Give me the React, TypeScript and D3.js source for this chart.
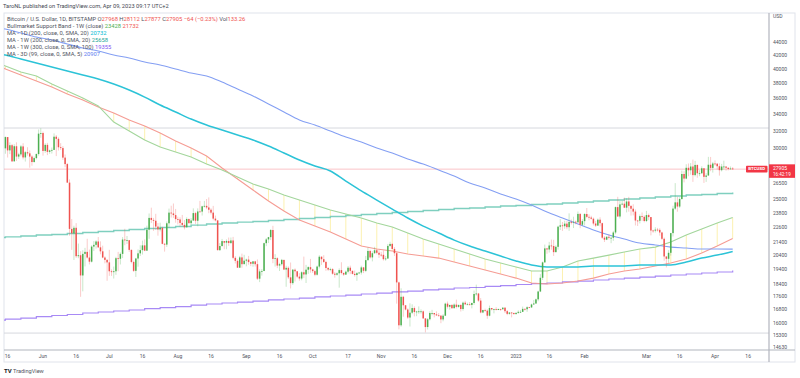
import React from "react";
import * as d3 from "d3";

type HLC = [number, number, number];

// Daily candles (high, low, close); open = previous close
const firstOpen = 30080;
const candleStart = Date.UTC(2022, 4, 15);
const may22: HLC[] = [[31400,29500,31330],[31300,29100,29860],[30740,29460,30420],[30560,28650,28700],[30520,28700,30310],[30740,28740,29200],[29600,28960,29430],[30450,29230,30290],[30640,28900,29110],[29800,28680,29660],[30200,29300,29540],[29850,28050,29200],[29350,28250,28630],[29200,28570,29040],[29530,28900,29470],[32200,29300,31720],[32350,31250,31790]];
const jun22: HLC[] = [[31960,29300,29800],[30640,29600,30460],[30680,29350,29700],[29940,29500,29860],[30170,29520,29910],[31750,29900,31370],[31560,29250,31130],[31300,29850,30200],[30650,29900,30110],[30330,28850,29090],[29420,28100,28420],[28540,26560,26580],[26890,21950,22490],[23300,20850,22130],[22750,20100,22580],[22960,20250,20380],[21330,20230,20450],[20750,17600,19010],[20820,17950,20550],[21000,19640,20700],[21700,20200,20280],[20870,19780,19980],[21200,19920,21100],[21520,20760,21230],[21580,20950,21490],[21840,21000,21040],[21500,20520,20740],[21170,20230,20280],[20370,19860,20110],[20170,18650,19930]];
const jul22: HLC[] = [[20850,18980,19300],[19430,18980,19240],[19630,18800,19300],[20330,19050,20230],[20700,19300,20190],[20660,19780,20550],[21830,20240,21640],[22500,21200,21590],[21920,21300,21590],[21600,20700,20850],[20870,19860,19960],[20050,19250,19330],[20260,18910,20210],[20880,19620,20590],[21200,20390,20830],[21560,20500,21190],[21650,20750,20790],[22750,20780,22430],[23780,21700,23400],[24280,22970,23230],[23400,22330,23160],[23750,22400,22680],[22970,21950,22450],[23000,22290,22580],[22660,21270,21310],[21380,20720,21250],[23100,21070,22950],[24200,22580,23850],[24450,23430,23780],[24650,23400,23640],[24170,23000,23300]];
const aug22: HLC[] = [[23500,22850,23270],[23450,22670,22980],[23650,22700,22820],[23220,22450,22620],[23450,22600,23310],[23340,22930,22960],[23380,22850,23180],[24220,23150,23810],[23920,22900,23160],[24220,22700,23950],[24880,23900,23940],[24450,23600,24400],[24880,24300,24440],[25050,24150,24300],[25200,23800,24100],[24230,23700,23850],[24440,23200,23340],[23600,23100,23190],[23200,20800,20830],[21370,20770,21140],[21690,21100,21520],[21480,20900,21400],[21650,20900,21530],[21800,21150,21370],[21800,21300,21570],[21850,20150,20260],[20380,19850,20040],[20150,19550,19550],[20400,19600,20290],[20570,19540,19800],[20480,19850,20050]];
const sep22: HLC[] = [[20200,19650,20130],[20400,19760,19950],[19980,19660,19830],[20030,19620,20000],[20040,19630,19800],[20140,18700,18790],[19440,18560,19290],[19450,19000,19320],[21400,19300,21360],[21760,21130,21650],[21850,21370,21830],[22480,21600,22400],[22740,19870,20180],[20530,19630,20230],[20300,19520,19700],[19900,19320,19800],[20180,19700,20110],[20100,19380,19420],[19690,18250,19540],[19640,18770,18880],[19920,18140,18490],[19460,18380,19410],[19500,18600,19300],[19300,18820,18930],[19170,18650,18800],[19300,18680,19230],[20350,18830,19080],[19750,18500,19410],[19650,19120,19590],[20180,19200,19430]];
const oct22: HLC[] = [[19480,19180,19310],[19400,18960,19060],[19700,19000,19630],[20450,19500,20340],[20370,19750,20160],[20450,19880,19960],[20050,19330,19530],[19600,19330,19420],[19550,19300,19450],[19520,19060,19130],[19250,18860,19060],[19220,18990,19160],[19500,18190,19380],[19940,19080,19180],[19220,18980,19070],[19350,19050,19270],[19670,19150,19550],[19700,19100,19330],[19350,19080,19120],[19350,18930,19040],[19250,18650,19170],[19260,19100,19210],[19690,19070,19570],[19600,19170,19330],[20400,19240,20090],[21020,20060,20770],[20860,20200,20290],[20750,20000,20600],[21080,20560,20820],[20930,20510,20630],[20840,20250,20490]];
const nov22: HLC[] = [[20700,20340,20480],[20800,20060,20160],[20390,20050,20210],[21300,20180,21150],[21470,21080,21300],[21360,20900,20920],[21060,20390,20600],[20680,17170,18540],[18590,15650,15880],[18150,15800,17600],[17660,16380,17070],[17080,16760,16810],[16880,16250,16330],[17190,15810,16620],[17130,16530,16900],[17000,16400,16660],[16730,16410,16690],[17000,16550,16700],[16820,16560,16700],[16750,16260,16280],[16290,15480,15780],[16300,15640,16230],[16700,16160,16600],[16790,16460,16600],[16600,16340,16520],[16700,16420,16460],[16600,16400,16440],[16480,16000,16220],[16530,16110,16440],[17230,16420,17170]];
const dec22: HLC[] = [[17300,16870,16980],[17100,16800,17090],[17140,16860,16890],[17190,16880,17110],[17420,16880,16970],[17110,16920,17090],[17130,16690,16840],[17300,16740,17230],[17350,17080,17130],[17230,17090,17130],[17270,17070,17090],[17240,16880,17210],[18000,17100,17780],[18390,17670,17810],[17850,17280,17360],[17520,16580,16630],[16800,16590,16780],[16860,16670,16740],[16820,16260,16440],[17050,16400,16900],[16900,16760,16820],[16860,16580,16830],[16950,16760,16780],[16870,16780,16840],[16860,16730,16830],[16960,16790,16920],[16960,16600,16710],[16780,16470,16550],[16650,16500,16630],[16640,16340,16600],[16630,16490,16540]];
const jan23: HLC[] = [[16630,16490,16610],[16760,16550,16670],[16780,16600,16670],[16990,16660,16850],[16880,16750,16830],[17010,16670,16950],[16970,16900,16940],[17170,16910,17120],[17400,17100,17180],[17490,17150,17440],[17990,17320,17940],[19100,17900,18850],[19990,18700,19930],[21250,19900,20960],[21000,20560,20880],[21460,20650,21180],[21640,20860,21140],[21620,20400,20680],[21190,20660,21080],[22750,20870,22670],[23300,22400,22780],[23060,22330,22710],[23160,22500,22920],[23140,22460,22630],[23790,22330,23060],[23270,22850,23010],[23500,22560,23080],[23170,22860,23030],[23950,23000,23740],[23800,22550,22830],[23300,22740,23130]];
const feb23: HLC[] = [[23800,22780,23730],[24250,23370,23490],[23700,23200,23430],[23580,23260,23330],[23430,22770,22930],[23150,22650,22760],[23350,22740,23250],[23450,22700,22960],[23000,21700,21790],[21910,21450,21630],[21900,21600,21860],[22060,21640,21780],[21880,21360,21780],[22330,21540,22200],[24380,22060,24330],[25250,23500,23520],[24870,23350,24570],[24880,24500,24630],[25180,24250,24280],[25120,23870,24830],[25250,23930,24440],[24470,23600,24190],[24580,23610,23940],[24130,22770,23180],[23230,22730,23160],[23690,22940,23550],[23860,23130,23490],[23610,23030,23140]];
const mar23: HLC[] = [[24000,23050,23640],[23770,23210,23470],[23480,21970,22360],[22420,22180,22350],[22620,22200,22430],[22570,22280,22410],[22540,21950,22200],[22260,21600,21700],[21800,20050,20360],[20330,19570,20190],[20830,19900,20630],[22170,20420,22150],[24450,21880,24200],[26530,24090,24750],[25250,23930,24380],[25200,24250,25050],[27760,25000,27420],[27700,26600,26970],[28400,26900,28040],[28480,27200,27790],[28520,27350,28170],[28880,26650,27310],[28750,27180,28330],[28380,27050,27490],[27800,27200,27490],[28190,27450,27990],[28000,26550,27140],[27500,26650,27270],[29170,27250,28350],[29160,27700,28030],[28640,27560,28480]];
const apr23: HLC[] = [[28800,28260,28460],[28500,27860,28200],[28500,27260,27800],[28440,27680,28170],[28770,27850,28170],[28190,27750,28040],[28100,27780,27920],[28170,27880,27970],[28112,27877,27905]];
const candleMonths: HLC[][] = [may22, jun22, jul22, aug22, sep22, oct22, nov22, dec22, jan23, feb23, mar23, apr23];

// Weekly indicator values (weeks ending Sunday, from 2022-05-08)
const weekStart = Date.UTC(2022, 4, 8);
const bandGreen = [41380,40490,39630,39060,37940,37000,36070,35050,33080,32020,31000,30220,29680,29150,28420,27820,27120,26440,25970,25410,24960,24510,24080,23730,23390,22970,22640,22160,21680,21290,20910,20540,20170,19880,19600,19320,19320,19600,20030,20240,20460,20690,20910,21060,21450,22000,22480,22970,23428];
const bandRed = [40940,40060,39200,38360,37540,36600,35815,34920,34170,33320,32610,31790,30890,30120,29260,28020,26930,25880,24870,23990,23220,22720,22240,21680,21140,20910,20760,20540,20390,20240,19950,19670,19385,19110,18830,18500,18430,18500,18630,18830,19110,19320,19460,19670,19880,20170,20610,21140,21732];
const ma200d = [42590,42130,41530,40940,40350,39770,39200,38640,37940,37130,36200,35170,34300,33440,32720,32140,31560,31000,30330,29580,28840,28220,27720,26730,25790,24960,24160,23390,22720,22160,21600,21140,20760,20390,20030,19740,19600,19600,19600,19670,19670,19670,19740,19740,19740,19950,20240,20460,20732];
const ma200w = [21800,21850,21920,22000,22040,22120,22200,22280,22360,22440,22520,22600,22680,22800,22890,22970,23050,23100,23180,23260,23350,23430,23520,23600,23690,23780,23860,23950,24030,24120,24210,24250,24340,24430,24470,24560,24600,24690,24780,24870,24960,25050,25140,25230,25320,25420,25460,25550,25658];
const ma300w = [16180,16240,16300,16390,16450,16510,16600,16660,16720,16780,16870,16930,16990,17080,17150,17210,17270,17330,17400,17460,17520,17590,17650,17710,17780,17840,17910,17970,18040,18100,18170,18200,18270,18330,18400,18460,18500,18570,18630,18700,18770,18830,18900,18970,19040,19110,19180,19250,19355];
const ma3d = [46790,46280,45620,44960,44480,43840,43210,42750,42130,41680,41080,40640,40060,39480,39060,38220,37270,36340,35300,34300,33320,32720,32020,31340,30770,30120,29580,28940,28420,27820,27220,26540,26070,25510,25050,24510,23900,23390,22890,22400,22000,21680,21370,21220,21060,20990,20910,20910,20907];

const priceTicks = [44000, 42000, 40000, 38000, 36000, 34000, 32000, 30000, 26500, 25000, 23800, 22600, 21400, 20400, 19400, 18400, 17600, 16800, 16000, 15300, 14630];
const timeTicks: [string, string][] = [["2022-05-16","16"],["2022-06-01","Jun"],["2022-06-16","16"],["2022-07-01","Jul"],["2022-07-16","16"],["2022-08-01","Aug"],["2022-08-16","16"],["2022-09-01","Sep"],["2022-09-16","16"],["2022-10-01","Oct"],["2022-10-17","17"],["2022-11-01","Nov"],["2022-11-16","16"],["2022-12-01","Dec"],["2022-12-16","16"],["2023-01-01","2023"],["2023-01-16","16"],["2023-02-01","Feb"],["2023-03-01","Mar"],["2023-03-16","16"],["2023-04-01","Apr"],["2023-04-16","16"]];
const hLevels = [32370, 15440];
const lastPrice = 27905;

const UP = "#4caf50";
const DOWN = "#ef5350";
const FONT = "Roboto, 'Liberation Sans', Arial, sans-serif";

export default function App() {
  const W = 800, H = 378;
  const L = 4, T = 13, R = 769, B = 350;
  const x = d3.scaleUtc()
    .domain([new Date(Date.UTC(2022, 5, 1)), new Date(Date.UTC(2023, 3, 1))])
    .range([43, 715]);
  const y = d3.scaleLog().domain([44000, 14630]).range([43, 348]);

  let prev = firstOpen;
  const candles = candleMonths.flat().map((d, i) => {
    const o = prev;
    const [h, l, c] = d;
    prev = c;
    return { date: d3.utcDay.offset(new Date(candleStart), i), o, c, h: Math.max(h, o, c), l: Math.min(l, o, c) };
  });
  candles[candles.length - 1].o = 27968;

  const weeks = ma3d.map((_, i) => d3.utcWeek.offset(new Date(weekStart), i));
  const mk = (vals: number[], curve: d3.CurveFactory) =>
    d3.line<number>().x((_, i) => x(weeks[i])).y((v) => y(v)).curve(curve)(vals) || "";

  const lines = [
    { d: mk(ma200w, d3.curveStepAfter), color: "#7fcfbf", w: 1.4 },
    { d: mk(ma300w, d3.curveStepAfter), color: "#a88af5", w: 1.2 },
    { d: mk(bandRed, d3.curveLinear), color: "#f59c94", w: 1.1 },
    { d: mk(bandGreen, d3.curveLinear), color: "#a3d69c", w: 1.1 },
    { d: mk(ma3d, d3.curveMonotoneX), color: "#849ff3", w: 1.1 },
    { d: mk(ma200d, d3.curveMonotoneX), color: "#2cc3d7", w: 1.5 },
  ];

  const legendY = [21, 28, 35, 42, 49, 56];
  const gray = "#50535e";
  const fs = 5.8;

  return (
    <svg width={W} height={H} style={{ position: "absolute", left: 0, top: 0, background: "#fff" }} fontFamily={FONT}>
      <defs>
        <clipPath id="plot"><rect x={L} y={T} width={R - L} height={B - T} /></clipPath>
      </defs>
      <rect x={0} y={0} width={W} height={H} fill="#fff" />
      <text x={3} y={8} fontSize={5.7} fill="#434651">TaroNL published on TradingView.com, Apr 09, 2023 09:17 UTC+2</text>

      {/* frame */}
      <rect x={L} y={T} width={795 - L} height={362 - T} fill="none" stroke="#e0e3eb" strokeWidth={1} />

      <g clipPath="url(#plot)">
        {hLevels.map((v) => (
          <line key={v} x1={L} x2={R} y1={y(v)} y2={y(v)} stroke="#d6d8de" strokeWidth={1} />
        ))}
        <line x1={L} x2={R} y1={y(lastPrice)} y2={y(lastPrice)} stroke="#f23645" strokeOpacity={0.3} strokeWidth={1} />
        {weeks.map((wd, i) => (
          <line key={"f" + i} x1={x(wd)} x2={x(wd)} y1={y(bandGreen[i])} y2={y(bandRed[i])} stroke="#fcf1b0" strokeWidth={1} />
        ))}
        {lines.map((ln, i) => (
          <path key={"l" + i} d={ln.d} fill="none" stroke={ln.color} strokeWidth={ln.w} />
        ))}
        {candles.map((k, i) => {
          const cx = x(k.date);
          const col = k.c >= k.o ? UP : DOWN;
          const top = y(Math.max(k.o, k.c));
          const bot = y(Math.min(k.o, k.c));
          return (
            <g key={"c" + i}>
              <line x1={cx} x2={cx} y1={y(k.h)} y2={y(k.l)} stroke={col} strokeOpacity={0.3} strokeWidth={1} />
              <rect x={cx - 0.75} y={top} width={1.5} height={Math.max(0.8, bot - top)} fill={col} />
            </g>
          );
        })}
      </g>

      {/* legend */}
      <text x={7} y={legendY[0]} fontSize={fs} fill={gray}>
        Bitcoin / U.S. Dollar, 1D, BITSTAMP <tspan>O</tspan><tspan fill={DOWN}>27968</tspan> <tspan>H</tspan><tspan fill={DOWN}>28112</tspan> <tspan>L</tspan><tspan fill={DOWN}>27877</tspan> <tspan>C</tspan><tspan fill={DOWN}>27905</tspan> <tspan fill={DOWN}>−64 (−0.23%)</tspan> <tspan>Vol</tspan><tspan fill={DOWN}>133.26</tspan>
      </text>
      <text x={7} y={legendY[1]} fontSize={fs} fill={gray}>
        Bullmarket Support Band - 1W (close) <tspan fill={UP}>23428</tspan> <tspan fill={DOWN}>21732</tspan>
      </text>
      <text x={7} y={legendY[2]} fontSize={fs} fill={gray}>
        MA - 1D (200, close, 0, SMA, 20) <tspan fill="#00bcd4">20732</tspan>
      </text>
      <text x={7} y={legendY[3]} fontSize={fs} fill={gray}>
        MA - 1W (200, close, 0, SMA, 20) <tspan fill="#26a69a">25658</tspan>
      </text>
      <text x={7} y={legendY[4]} fontSize={fs} fill={gray}>
        MA - 1W (300, close, 0, SMA, 100) <tspan fill="#7e57f2">19355</tspan>
      </text>
      <text x={7} y={legendY[5]} fontSize={fs} fill={gray}>
        MA - 3D (99, close, 0, SMA, 5) <tspan fill="#5c7cf0">20907</tspan>
      </text>

      {/* price axis */}
      <line x1={R} x2={R} y1={T} y2={362} stroke="#b2b5be" strokeWidth={1.2} />
      <text x={773} y={17} fontSize={5} fill={gray} dominantBaseline="middle">USD</text>
      {priceTicks.map((v) => (
        <text key={"p" + v} x={773} y={y(v)} fontSize={5} fill={gray} dominantBaseline="middle">{v}</text>
      ))}

      {/* time axis */}
      <line x1={L} x2={795} y1={B} y2={B} stroke="#b2b5be" strokeWidth={1.2} />
      {timeTicks.map(([ds, lab]) => (
        <text key={"t" + ds} x={x(new Date(ds + "T00:00:00Z"))} y={357} fontSize={5} fill={gray} textAnchor="middle" dominantBaseline="middle">{lab}</text>
      ))}

      {/* last price tags */}
      <rect x={746} y={y(lastPrice) - 3.3} width={21.5} height={6.6} fill="#f23645" rx={0.8} />
      <text x={756.7} y={y(lastPrice) + 0.2} fontSize={4.4} fill="#fff" textAnchor="middle" dominantBaseline="middle" fontWeight="bold">BTCUSD</text>
      <rect x={769} y={y(lastPrice) - 4.8} width={26} height={13.5} fill="#f23645" />
      <text x={773} y={y(lastPrice) - 0.8} fontSize={5} fill="#fff" dominantBaseline="middle">{lastPrice}</text>
      <text x={773} y={y(lastPrice) + 5.2} fontSize={4.6} fill="#fff" dominantBaseline="middle">16:42:19</text>

      {/* branding */}
      <text x={4} y={372.5} fontSize={6} fontWeight="bold" fill="#131722">TV</text>
      <text x={13} y={372.5} fontSize={5.6} fill="#50535e">TradingView</text>
    </svg>
  );
}
